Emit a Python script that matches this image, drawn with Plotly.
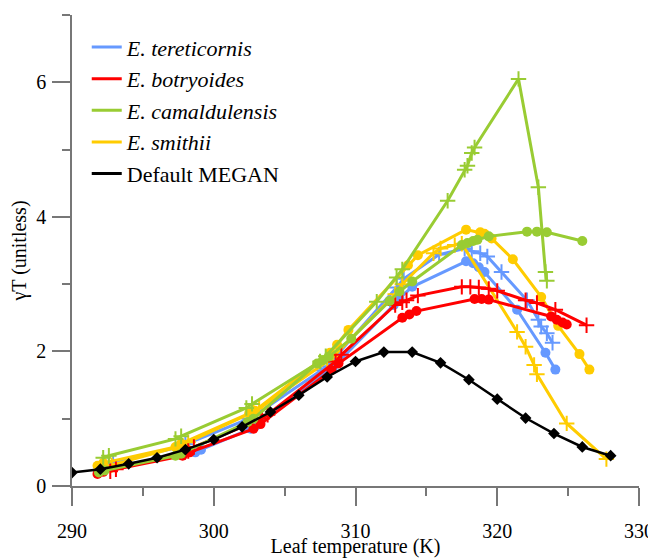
import plotly.graph_objects as go

# ---------------- data ----------------
megan_T = [290, 292, 294, 296, 298, 300, 302, 304, 306, 308, 310, 312, 314, 316, 318, 320, 322, 324, 326, 328]
megan_g = [0.20, 0.25, 0.33, 0.42, 0.54, 0.69, 0.88, 1.10, 1.35, 1.62, 1.85, 1.99, 1.99, 1.83, 1.58, 1.29, 1.01, 0.78, 0.58, 0.45]

teret_circ_T = [291.9, 292.3, 298.7, 299.1, 302.6, 303.0, 308.0, 308.4, 312.7, 313.1, 314.0, 317.8, 318.3, 318.7, 319.1, 321.4, 323.4, 324.1]
teret_circ_g = [0.23, 0.26, 0.50, 0.54, 0.85, 0.90, 1.70, 1.76, 2.69, 2.79, 2.96, 3.34, 3.31, 3.25, 3.18, 2.62, 1.98, 1.73]
teret_plus_T = [292.6, 292.9, 297.6, 298.0, 302.5, 302.9, 307.6, 308.0, 312.9, 313.4, 315.9, 317.7, 318.2, 318.8, 319.3, 320.3, 322.1, 322.9, 323.1, 323.5, 323.9]
teret_plus_g = [0.33, 0.36, 0.58, 0.62, 1.00, 1.05, 1.72, 1.78, 2.95, 3.08, 3.44, 3.53, 3.49, 3.46, 3.41, 3.18, 2.76, 2.47, 2.37, 2.27, 2.13]

botry_circ_T = [291.8, 292.2, 297.8, 298.3, 302.8, 303.3, 308.3, 308.8, 313.3, 313.8, 314.3, 318.4, 318.9, 319.4, 323.8, 324.2, 324.6, 324.9]
botry_circ_g = [0.18, 0.21, 0.45, 0.50, 0.85, 0.92, 1.72, 1.82, 2.50, 2.55, 2.60, 2.78, 2.78, 2.77, 2.52, 2.47, 2.43, 2.40]
botry_plus_T = [292.7, 293.1, 298.2, 298.6, 303.4, 303.8, 308.6, 309.0, 312.8, 313.3, 313.6, 314.4, 317.5, 318.1, 318.7, 319.4, 320.0, 322.0, 322.8, 324.1, 326.3]
botry_plus_g = [0.22, 0.25, 0.52, 0.58, 1.00, 1.06, 1.85, 1.95, 2.69, 2.73, 2.76, 2.83, 2.96, 2.96, 2.95, 2.93, 2.90, 2.76, 2.72, 2.62, 2.39]

camal_circ_T = [291.9, 292.3, 297.3, 297.7, 302.4, 302.8, 307.3, 307.7, 308.1, 309.7, 312.4, 313.1, 314.0, 317.5, 317.9, 318.3, 318.6, 319.4, 322.1, 322.8, 323.5, 326.0]
camal_circ_g = [0.20, 0.23, 0.45, 0.48, 0.95, 1.00, 1.82, 1.87, 1.92, 2.19, 2.75, 2.89, 3.04, 3.58, 3.61, 3.64, 3.66, 3.71, 3.78, 3.78, 3.77, 3.64]
camal_plus_T = [292.2, 292.6, 297.3, 297.7, 302.3, 302.7, 307.5, 307.9, 311.5, 312.9, 313.3, 316.5, 317.7, 317.9, 318.2, 318.4, 321.5, 322.9, 323.4, 323.5]
camal_plus_g = [0.42, 0.45, 0.70, 0.74, 1.16, 1.22, 1.85, 1.93, 2.74, 3.10, 3.22, 4.24, 4.70, 4.76, 4.95, 5.03, 6.05, 4.44, 3.18, 3.05]

smith_circ_T = [291.8, 292.2, 297.3, 297.7, 302.5, 302.9, 308.2, 308.7, 309.5, 313.7, 314.4, 317.8, 318.8, 319.1, 319.6, 321.1, 323.1, 324.3, 325.8, 326.5]
smith_circ_g = [0.30, 0.34, 0.58, 0.63, 1.08, 1.12, 1.98, 2.10, 2.32, 3.28, 3.43, 3.81, 3.77, 3.75, 3.68, 3.37, 2.81, 2.38, 1.96, 1.73]
smith_plus_T = [292.4, 292.8, 297.8, 298.2, 302.8, 303.2, 308.0, 308.4, 312.8, 313.3, 315.5, 316.0, 317.0, 317.5, 321.4, 322.0, 322.6, 322.8, 324.9, 327.7]
smith_plus_g = [0.28, 0.31, 0.60, 0.65, 1.10, 1.15, 1.85, 1.92, 2.85, 3.00, 3.46, 3.53, 3.58, 3.60, 2.29, 2.07, 1.80, 1.66, 0.93, 0.40]

legend_names = ["<i>E. tereticornis</i>", "<i>E. botryoides</i>", "<i>E. camaldulensis</i>", "<i>E. smithii</i>", "Default MEGAN"]
x_ticks = [290, 300, 310, 320, 330]
x_minor = [295, 305, 315, 325]
y_ticks = [0, 2, 4, 6]
y_minor = [1, 3, 5, 7]
x_range = [290, 330]
y_range = [0, 7]

# ---------------- styling ----------------
BLUE = "#6699FF"
RED = "#FF0000"
GREEN = "#99CC33"
YELLOW = "#FFCC00"
BLACK = "#000000"
AX = "#777777"
FONT = "Liberation Serif"

# the page places the figure 8 px from the window's top-left corner
W, H = 648, 550
ML, MR, MT, MB = 64, 17, 7, 72
MAJOR_LEN, MINOR_LEN = 18, 8

fig = go.Figure()

# legend-only entries (line samples)
for name, col in zip(legend_names, [BLUE, RED, GREEN, YELLOW, BLACK]):
    fig.add_trace(go.Scatter(x=[None], y=[None], mode="lines", name=name,
                             line=dict(color=col, width=3), showlegend=True))

def add_pair(cT, cg, pT, pg, col):
    fig.add_trace(go.Scatter(x=cT, y=cg, mode="lines+markers", showlegend=False,
                             line=dict(color=col, width=3),
                             marker=dict(symbol="circle", size=10, color=col)))
    fig.add_trace(go.Scatter(x=pT, y=pg, mode="lines+markers", showlegend=False,
                             line=dict(color=col, width=3),
                             marker=dict(symbol="cross-thin", size=11, color=col,
                                         line=dict(color=col, width=2))))

add_pair(teret_circ_T, teret_circ_g, teret_plus_T, teret_plus_g, BLUE)
add_pair(smith_circ_T, smith_circ_g, smith_plus_T, smith_plus_g, YELLOW)
add_pair(botry_circ_T, botry_circ_g, botry_plus_T, botry_plus_g, RED)
add_pair(camal_circ_T, camal_circ_g, camal_plus_T, camal_plus_g, GREEN)

fig.add_trace(go.Scatter(x=megan_T, y=megan_g, mode="lines+markers", showlegend=False,
                         line=dict(color=BLACK, width=2.5),
                         marker=dict(symbol="diamond", size=9, color=BLACK)))

fig.update_layout(
    template="none",
    width=W, height=H,
    margin=dict(l=ML, r=MR, t=MT, b=MB),
    paper_bgcolor="white", plot_bgcolor="white",
    font=dict(family=FONT, size=20, color="black"),
    showlegend=True,
    legend=dict(x=0.026, y=0.976, xanchor="left", yanchor="top",
                bgcolor="rgba(0,0,0,0)", borderwidth=0,
                font=dict(family=FONT, size=22, color="black"),
                itemwidth=30, tracegroupgap=0),
    xaxis=dict(range=x_range, tickmode="array", tickvals=x_ticks,
               ticktext=[str(v) for v in x_ticks],
               ticks="outside", ticklen=MAJOR_LEN, tickwidth=2, tickcolor=AX,
               showline=True, linecolor=AX, linewidth=1.5,
               showgrid=False, zeroline=False, automargin=False,
               tickfont=dict(family=FONT, size=20, color="black"),
               minor=dict(tickmode="array", tickvals=x_minor, ticks="outside",
                          ticklen=MINOR_LEN, tickwidth=2, tickcolor=AX, showgrid=False),
               ticklabelstandoff=8,
               title=dict(text="Leaf temperature (K)", font=dict(family=FONT, size=20), standoff=7)),
    yaxis=dict(range=y_range, tickmode="array", tickvals=y_ticks,
               ticktext=[str(v) for v in y_ticks],
               ticks="outside", ticklen=MAJOR_LEN, tickwidth=2, tickcolor=AX,
               showline=True, linecolor=AX, linewidth=1.5,
               showgrid=False, zeroline=False, automargin=False,
               tickfont=dict(family=FONT, size=20, color="black"),
               minor=dict(tickmode="array", tickvals=y_minor, ticks="outside",
                          ticklen=MINOR_LEN, tickwidth=2, tickcolor=AX, showgrid=False),
               ticklabelstandoff=2,
               title=dict(text="γT (unitless)", font=dict(family=FONT, size=20), standoff=5)),
)

fig.write_html("out.html")
